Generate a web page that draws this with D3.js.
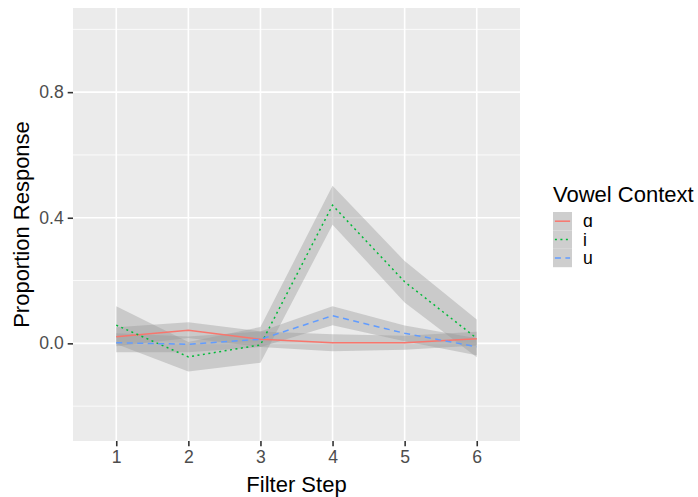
<!DOCTYPE html>
<html>
<head>
<meta charset="utf-8">
<script src="https://cdn.jsdelivr.net/npm/d3@7"></script>
<style>
    body { margin: 0; background: #fff; }
    svg text { font-family: "Liberation Sans", Arial, sans-serif; }
</style>
</head>
<body>
<svg width="698" height="497"></svg>
<script>
"use strict";

// filter steps on the x axis
let steps = [1, 2, 3, 4, 5, 6];

// vowel context series (mean proportion response per step)
let vowels = ["ɑ", "i", "u"];
let meanA = [0.021, 0.042, 0.013, 0.002, 0.002, 0.015];
let meanI = [0.058, -0.043, -0.005, 0.44, 0.196, 0.016];
let meanU = [0.002, -0.003, 0.013, 0.088, 0.032, -0.011];

// half width of the grey ribbon around each series
let seA = [0.03, 0.025, 0.025, 0.027, 0.022, 0.022];
let seI = [0.06, 0.047, 0.057, 0.062, 0.066, 0.06];
let seU = [0.03, 0.025, 0.025, 0.03, 0.025, 0.027];

let yTicks = [0, 0.4, 0.8];
let yMinor = [-0.2, 0.2, 0.6, 1.0];

let colours = ["#F8766D", "#00BA38", "#619CFF"];
let dashes = [null, "2,3.5", "6,4.5"];

let series = [
    { key: vowels[0], mean: meanA, se: seA },
    { key: vowels[1], mean: meanI, se: seI },
    { key: vowels[2], mean: meanU, se: seU }
];

let svg = d3.select("svg"),
    panel = { left: 73, right: 520, top: 8, bottom: 441 };

let x = d3.scaleLinear().domain([0.4, 6.6]).range([panel.left, panel.right]);
let y = d3.scaleLinear().domain([-0.311, 1.068]).range([panel.bottom, panel.top]);

let z = d3.scaleOrdinal().domain(vowels).range(colours);
let dash = d3.scaleOrdinal().domain(vowels).range(dashes);

// panel background
svg.append("rect")
    .attr("x", panel.left).attr("y", panel.top)
    .attr("width", panel.right - panel.left).attr("height", panel.bottom - panel.top)
    .attr("fill", "#EBEBEB");

let grid = svg.append("g").attr("class", "grid");

grid.selectAll("line.minor").data(yMinor).enter().append("line")
    .attr("class", "minor")
    .attr("x1", panel.left).attr("x2", panel.right)
    .attr("y1", function (d) { return y(d); }).attr("y2", function (d) { return y(d); })
    .attr("stroke", "#fff").attr("stroke-width", 0.8);

grid.selectAll("line.majory").data(yTicks).enter().append("line")
    .attr("class", "majory")
    .attr("x1", panel.left).attr("x2", panel.right)
    .attr("y1", function (d) { return y(d); }).attr("y2", function (d) { return y(d); })
    .attr("stroke", "#fff").attr("stroke-width", 1.6);

grid.selectAll("line.majorx").data(steps).enter().append("line")
    .attr("class", "majorx")
    .attr("y1", panel.top).attr("y2", panel.bottom)
    .attr("x1", function (d) { return x(d); }).attr("x2", function (d) { return x(d); })
    .attr("stroke", "#fff").attr("stroke-width", 1.6);

let area = d3.area()
    .x(function (d) { return x(d.step); })
    .y0(function (d) { return y(d.mean - d.se); })
    .y1(function (d) { return y(d.mean + d.se); });

let line = d3.line()
    .x(function (d) { return x(d.step); })
    .y(function (d) { return y(d.mean); });

function points(s) {
    return steps.map(function (st, i) {
        return { step: st, mean: s.mean[i], se: s.se[i] };
    });
}

svg.append("g").attr("class", "ribbons").selectAll("path").data(series).enter().append("path")
    .attr("d", function (d) { return area(points(d)); })
    .attr("fill", "#999999").attr("fill-opacity", 0.4);

svg.append("g").attr("class", "lines").selectAll("path").data(series).enter().append("path")
    .attr("d", function (d) { return line(points(d)); })
    .attr("fill", "none")
    .attr("stroke", function (d) { return z(d.key); })
    .attr("stroke-width", 1.5)
    .attr("stroke-dasharray", function (d) { return dash(d.key); });

// axes
let xAxis = svg.append("g").attr("transform", "translate(0," + panel.bottom + ")")
    .call(d3.axisBottom(x).tickValues(steps).tickFormat(d3.format("d")).tickSize(5.3).tickPadding(4));
let yAxis = svg.append("g").attr("transform", "translate(" + panel.left + ",0)")
    .call(d3.axisLeft(y).tickValues(yTicks).tickFormat(d3.format(".1f")).tickSize(5.3).tickPadding(4));

[xAxis, yAxis].forEach(function (a) {
    a.select(".domain").remove();
    a.selectAll(".tick line").attr("stroke", "#333333").attr("stroke-width", 1.6);
    a.selectAll(".tick text").attr("fill", "#4D4D4D").style("font-size", "17.6px");
});

svg.append("text")
    .attr("x", (panel.left + panel.right) / 2).attr("y", 492)
    .attr("text-anchor", "middle")
    .style("font-size", "22px").attr("fill", "#000")
    .text("Filter Step");

svg.append("text")
    .attr("transform", "translate(29," + (panel.top + panel.bottom) / 2 + ") rotate(-90)")
    .attr("text-anchor", "middle")
    .style("font-size", "22px").attr("fill", "#000")
    .text("Proportion Response");

// legend
let legend = svg.append("g").attr("transform", "translate(553,212)");

legend.append("text")
    .attr("x", 0).attr("y", -10)
    .style("font-size", "22px").attr("fill", "#000")
    .text("Vowel Context");

let keys = legend.selectAll("g.key").data(vowels).enter().append("g")
    .attr("class", "key")
    .attr("transform", function (d, i) { return "translate(0," + (i * 18.4) + ")"; });

keys.append("rect")
    .attr("width", 19).attr("height", 18.4)
    .attr("fill", "#F2F2F2");

keys.append("rect")
    .attr("width", 19).attr("height", 18.4)
    .attr("fill", "#999999").attr("fill-opacity", 0.4);

keys.append("line")
    .attr("x1", 1.9).attr("x2", 17.1)
    .attr("y1", 9.2).attr("y2", 9.2)
    .attr("stroke", function (d) { return z(d); })
    .attr("stroke-width", 1.5)
    .attr("stroke-dasharray", function (d) { return dash(d); });

keys.append("text")
    .attr("x", 30).attr("y", 9.2).attr("dy", "0.35em")
    .style("font-size", "17.6px").attr("fill", "#000")
    .text(function (d) { return d; });
</script>
</body>
</html>
